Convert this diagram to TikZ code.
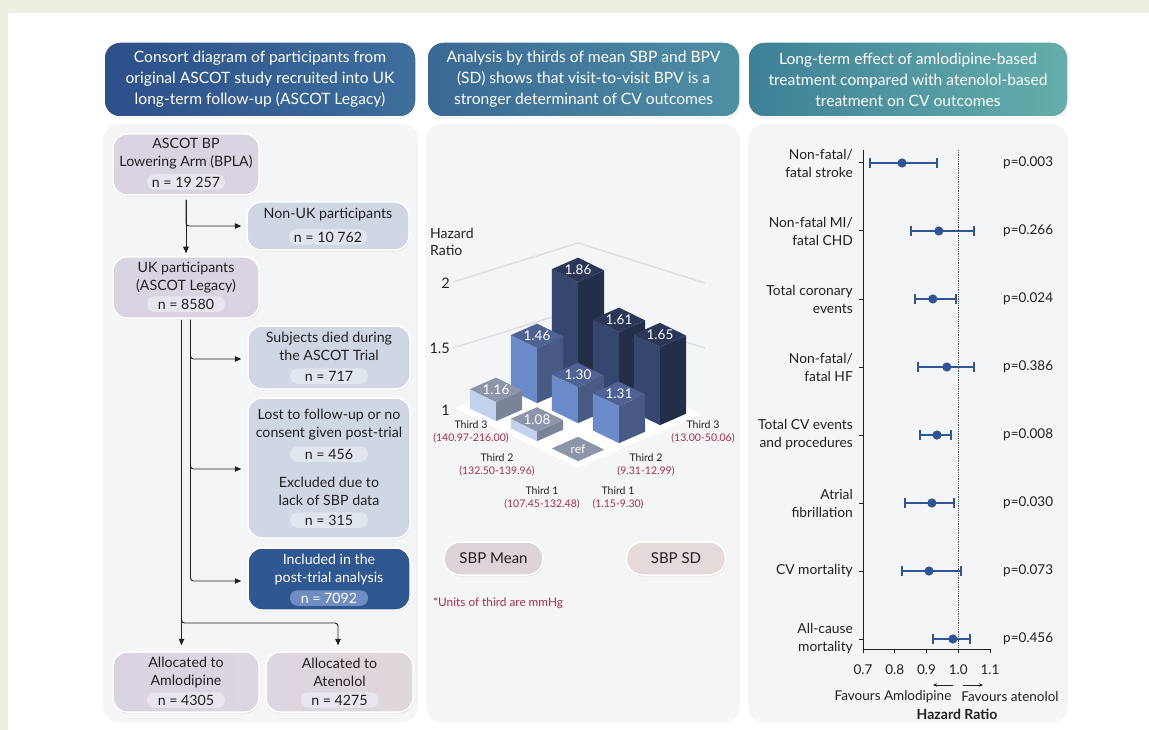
\documentclass[tikz,border=0pt]{standalone}
\usepackage{fontspec}
\setmainfont{Lato}
\usetikzlibrary{arrows.meta,shadows,calc}
\definecolor{ink}{HTML}{231F20}
\definecolor{beige}{HTML}{EEEEE2}
\definecolor{panelc}{HTML}{F4F5F7}
\definecolor{purp}{HTML}{D9D3E2}
\definecolor{purppill}{HTML}{E9E5EE}
\definecolor{alA}{HTML}{DAD3E1}
\definecolor{alB}{HTML}{DDD5DF}
\definecolor{alC}{HTML}{E0D7DC}
\definecolor{bgrey}{HTML}{CED7E3}
\definecolor{bgreypill}{HTML}{E1E6EE}
\definecolor{incl}{HTML}{2F5791}
\definecolor{inclpill}{HTML}{6F8DC0}
\definecolor{redt}{HTML}{AC2E44}
\definecolor{fblue}{HTML}{2F5597}
\definecolor{hAa}{HTML}{2D4F8A}\definecolor{hAb}{HTML}{3D6F9C}
\definecolor{hBa}{HTML}{3A6895}\definecolor{hBb}{HTML}{4E90A4}
\definecolor{hCa}{HTML}{3E8098}\definecolor{hCb}{HTML}{65AEAA}
\definecolor{lL}{HTML}{C3D1EC}\definecolor{lR}{HTML}{7B8396}\definecolor{lT}{HTML}{8C95AA}
\definecolor{mL}{HTML}{6C8BCB}\definecolor{mR}{HTML}{475A84}\definecolor{mT}{HTML}{4E6293}
\definecolor{dL}{HTML}{35466F}\definecolor{dR}{HTML}{232E48}\definecolor{dT}{HTML}{2A3757}
\definecolor{wallc}{HTML}{DDE0E6}
\definecolor{sbpA}{HTML}{DDD3DA}
\definecolor{sbpB}{HTML}{E4DAD9}
\newcommand{\hrbar}[8]{%
  \pgfmathsetmacro{\bcx}{578-41*#1+41*#2}%
  \pgfmathsetmacro{\bcy}{449-20*#1-18*#2}%
  \pgfmathsetmacro{\bhh}{120*#3}%
  \fill[#4] (\bcx-26.24,\bcy-0.64) -- (\bcx,\bcy+12.16) -- (\bcx,\bcy+12.16-\bhh) -- (\bcx-26.24,\bcy-0.64-\bhh) -- cycle;
  \fill[#5] (\bcx,\bcy+12.16) -- (\bcx+26.24,\bcy+0.64) -- (\bcx+26.24,\bcy+0.64-\bhh) -- (\bcx,\bcy+12.16-\bhh) -- cycle;
  \fill[#6] (\bcx-26.24,\bcy-0.64-\bhh) -- (\bcx,\bcy+12.16-\bhh) -- (\bcx+26.24,\bcy+0.64-\bhh) -- (\bcx,\bcy-12.16-\bhh) -- cycle;
  \node[barlab] (#8) at (\bcx,\bcy-\bhh) {#7};
}
\begin{document}
\begin{tikzpicture}[x=1pt,y=-1pt,
  every node/.style={text=ink},
  shad/.style={drop shadow={shadow xshift=0.6pt,shadow yshift=-1.4pt,opacity=0.18}},
  hdr/.style={shad,draw=white,line width=1.5pt,rounded corners=16pt,minimum height=75pt,text=white,align=center,font=\fontsize{15.6}{21}\selectfont,inner sep=0pt},
  panel/.style={fill=panelc,rounded corners=16pt,minimum height=598pt,inner sep=0pt},
  box/.style={shad,draw=white,line width=1.5pt,rounded corners=14pt,inner sep=0pt},
  btxt/.style={align=center,font=\fontsize{14.2}{18}\selectfont,inner sep=0pt},
  pill/.style={rounded corners=7.5pt,minimum width=78pt,minimum height=15.5pt,inner sep=0pt,font=\fontsize{14.2}{15}\selectfont},
  flow/.style={draw=ink,line width=0.9pt,-{Triangle[length=6.5pt,width=5.5pt]},rounded corners=3pt},
  barlab/.style={text=white,font=\fontsize{13.5}{14}\selectfont,inner sep=0pt},
  axl/.style={align=center,font=\fontsize{10.5}{13}\selectfont,inner sep=0pt},
  lvl/.style={anchor=east,font=\fontsize{14.5}{16}\selectfont,inner sep=0pt},
  sbp/.style={shad,draw=white,line width=1.5pt,rounded corners=16pt,minimum width=99pt,minimum height=33pt,font=\fontsize{15}{16}\selectfont},
  rowlab/.style={anchor=east,align=right,font=\fontsize{13.8}{18}\selectfont,inner sep=0pt},
  pval/.style={anchor=west,font=\fontsize{13.5}{15}\selectfont,inner sep=0pt},
  tick/.style={font=\fontsize{13.5}{15}\selectfont,inner sep=0pt},
  ci/.style={draw=fblue,line width=2pt},
]
\useasboundingbox (0,0) rectangle (1149,730);
\fill[beige] (0,0) rectangle (1149,730);
\fill[white] (8,13) rectangle (1149,730);

% panels
\node[panel,minimum width=315pt] (p1) at (260.5,423) {};
\node[panel,minimum width=314pt] (p2) at (583,423) {};
\node[panel,minimum width=320pt] (p3) at (908,423) {};

% headers
\node[hdr,left color=hAa,right color=hAb,minimum width=312pt] (h1) at (260,79.5) {Consort diagram of participants from\\original ASCOT study recruited into UK\\long-term follow-up (ASCOT Legacy)};
\node[hdr,left color=hBa,right color=hBb,minimum width=313pt] (h2) at (583.5,79.5) {Analysis by thirds of mean SBP and BPV\\(SD) shows that visit-to-visit BPV is a\\stronger determinant of CV outcomes};
\node[hdr,left color=hCa,right color=hCb,minimum width=320pt] (h3) at (908,79.5) {Long-term effect of amlodipine-based\\treatment compared with atenolol-based\\treatment on CV outcomes};

% ---------- consort ----------
\node[box,fill=purp,minimum width=146pt,minimum height=61pt] (bp) at (186,164.5) {};
\node[btxt] (bpt) at (186,154) {ASCOT BP\\Lowering Arm (BPLA)};
\node[pill,fill=purppill] (bpn) at (186,182) {n = 19 257};

\node[box,fill=bgrey,minimum width=162pt,minimum height=48pt] (nonuk) at (328,226) {};
\node[btxt] (nonukt) at (328,215) {Non-UK participants};
\node[pill,fill=bgreypill] (nonukn) at (328,237) {n = 10 762};

\node[box,fill=purp,minimum width=146pt,minimum height=61pt] (uk) at (186,287.5) {};
\node[btxt] (ukt) at (186,277.5) {UK participants\\(ASCOT Legacy)};
\node[pill,fill=purppill] (ukn) at (186,304) {n = 8580};

\node[box,fill=bgrey,minimum width=162pt,minimum height=63pt] (died) at (329,357.5) {};
\node[btxt] (diedt) at (329,346.5) {Subjects died during\\the ASCOT Trial};
\node[pill,fill=bgreypill] (diedn) at (329,376) {n = 717};

\node[box,fill=bgrey,minimum width=162pt,minimum height=140pt] (lost) at (329,468) {};
\node[btxt] (lostt) at (329,425) {Lost to follow-up or no\\consent given post-trial};
\node[pill,fill=bgreypill] (lostn) at (329,454) {n = 456};
\node[btxt] (exct) at (329,491.5) {Excluded due to\\lack of SBP data};
\node[pill,fill=bgreypill] (excn) at (329,520) {n = 315};

\node[box,fill=incl,minimum width=162pt,minimum height=62pt] (inc) at (329,579) {};
\node[btxt,text=white] (inct) at (329,569.5) {Included in the\\post-trial analysis};
\node[pill,fill=inclpill,text=white] (incn) at (329,598) {n = 7092};

\node[box,left color=alA,right color=alB,minimum width=146pt,minimum height=60pt] (aml) at (186,682) {};
\node[btxt] (amlt) at (186,672) {Allocated to\\Amlodipine};
\node[pill,fill=purppill] (amln) at (186,700) {n = 4305};

\node[box,left color=alB,right color=alC,minimum width=147pt,minimum height=60pt] (ate) at (339.5,682) {};
\node[btxt] (atet) at (339.5,672) {Allocated to\\Atenolol};
\node[pill,fill=purppill] (aten) at (339.5,700) {n = 4275};

\draw[flow,shorten <=4pt,shorten >=3pt] (bp.south) -- (uk.north);
\draw[flow,shorten <=4pt,shorten >=5pt] (bp.south) |- (nonuk.west);
\draw[flow,shorten <=1pt,shorten >=6pt] ([xshift=4.5pt]uk.south) |- ([yshift=-1.5pt]died.west);
\draw[flow,shorten <=1pt,shorten >=6pt] ([xshift=4.5pt]uk.south) |- ([yshift=-1pt]lost.west);
\draw[flow,shorten <=1pt,shorten >=6pt] ([xshift=4.5pt]uk.south) |- ([yshift=-2pt]inc.west);
\draw[flow,shorten <=1pt,shorten >=6pt] ([xshift=-4.5pt]uk.south) -- ([xshift=-4.5pt]aml.north);
\coordinate (split) at (0,623);
\draw[flow,shorten <=1pt,shorten >=6pt] ([xshift=-4.5pt]uk.south) |- ([xshift=-1.5pt]split -| ate.north) -- ([xshift=-1.5pt]ate.north);

% ---------- 3D bar chart ----------
\draw[wallc,line width=1.6pt] (453,282) -- (578,243) -- (705,283);
\draw[wallc,line width=1.6pt] (453,348) -- (578,309) -- (705,348);
\fill[white] (455,408) -- (578,468) -- (701,414) -- (578,354) -- cycle;
\node[anchor=west,align=left,font=\fontsize{14}{17}\selectfont,inner sep=0pt] (hrlab) at (430,241.5) {Hazard\\Ratio};
\node[lvl] (l2) at (450,283) {2};
\node[lvl] (l15) at (450,348) {1.5};
\node[lvl] (l1) at (450,410) {1};

\hrbar{2}{2}{0.86}{dL}{dR}{dT}{1.86}{b22}
\hrbar{2}{1}{0.46}{mL}{mR}{mT}{1.46}{b21}
\hrbar{1}{2}{0.61}{dL}{dR}{dT}{1.61}{b12}
\hrbar{2}{0}{0.16}{lL}{lR}{lT}{1.16}{b20}
\hrbar{1}{1}{0.30}{mL}{mR}{mT}{1.30}{b11}
\hrbar{0}{2}{0.65}{dL}{dR}{dT}{1.65}{b02}
\hrbar{1}{0}{0.08}{lL}{lR}{lT}{1.08}{b10}
\hrbar{0}{1}{0.31}{mL}{mR}{mT}{1.31}{b01}
\fill[lT] (551.76,448.36) -- (578,461.16) -- (604.24,449.64) -- (578,436.84) -- cycle;
\node[barlab,font=\fontsize{12}{13}\selectfont] (ref) at (578,449) {ref};

\node[axl] (m3) at (471,431.5) {Third 3\\\textcolor{redt}{(140.97-216.00)}};
\node[axl] (m2) at (497,464.5) {Third 2\\\textcolor{redt}{(132.50-139.96)}};
\node[axl] (m1) at (542,497.5) {Third 1\\\textcolor{redt}{(107.45-132.48)}};
\node[axl] (s1) at (618,497.5) {Third 1\\\textcolor{redt}{(1.15-9.30)}};
\node[axl] (s2) at (646,464.5) {Third 2\\\textcolor{redt}{(9.31-12.99)}};
\node[axl] (s3) at (703,431.5) {Third 3\\\textcolor{redt}{(13.00-50.06)}};

\node[sbp,fill=sbpA] (sbpm) at (493.5,558.5) {SBP Mean};
\node[sbp,fill=sbpB] (sbps) at (676,558.5) {SBP SD};
\node[anchor=west,text=redt,font=\fontsize{11.8}{14}\selectfont,inner sep=0pt] (units) at (433,603) {*Units of third are mmHg};

% ---------- forest plot ----------
\draw[densely dotted,ink!80,line width=0.8pt] (958.25,150) -- (958.25,649);
\draw[ink,line width=1pt] (863,150) -- (863,649) -- (990,649);
\foreach \t/\lab in {0.7/0.7,0.8/0.8,0.9/0.9,1.0/1.0,1.1/1.1}{
  \draw[ink,line width=1pt] ({863+(\t-0.7)*317.5},649) -- ++(0,4);
  \node[tick] (tk\lab) at ({863+(\t-0.7)*317.5},670) {\lab};
}
\foreach \i/\y/\lo/\est/\hi/\lab/\p in {
  1/163/0.722/0.823/0.933/{Non-fatal/\\fatal stroke}/0.003,
  2/231/0.851/0.939/1.050/{Non-fatal MI/\\fatal CHD}/0.266,
  3/299/0.864/0.920/0.993/{Total coronary\\events}/0.024,
  4/367/0.873/0.964/1.050/{Non-fatal/\\fatal HF}/0.386,
  5/435/0.880/0.933/0.977/{Total CV events\\and procedures}/0.008,
  6/503/0.832/0.917/0.987/{Atrial\\fibrillation}/0.030,
  7/571/0.823/0.908/1.009/{CV mortality}/0.073,
  8/639/0.920/0.983/1.037/{All-cause\\mortality}/0.456}{
  \draw[ink,line width=1pt] (859,\y) -- (863,\y);
  \draw[ci] ({863+(\lo-0.7)*317.5},\y) -- ({863+(\hi-0.7)*317.5},\y);
  \draw[ci] ({863+(\lo-0.7)*317.5},\y-5) -- ++(0,10);
  \draw[ci] ({863+(\hi-0.7)*317.5},\y-5) -- ++(0,10);
  \fill[fblue] ({863+(\est-0.7)*317.5},\y) circle (4.6);
  \node[rowlab] (row\i) at (853,\y) {\lab};
  \node[pval] (pv\i) at (1003,\y) {p=\p};
}
\coordinate (fa1) at (953,685);
\coordinate (fa2) at (933,685);
\coordinate (fb1) at (963,685);
\coordinate (fb2) at (983,685);
\draw[ink,line width=0.8pt,-{Stealth[length=4pt,width=3.5pt]}] (fa1) -- (fa2);
\draw[ink,line width=0.8pt,-{Stealth[length=4pt,width=3.5pt]}] (fb1) -- (fb2);
\node[tick] (fav1) at (893,697) {Favours Amlodipine};
\node[tick] (fav2) at (1010,697) {Favours atenolol};
\node[tick,font=\fontsize{14}{15}\bfseries] (hrx) at (957,714) {Hazard Ratio};
\end{tikzpicture}
\end{document}
